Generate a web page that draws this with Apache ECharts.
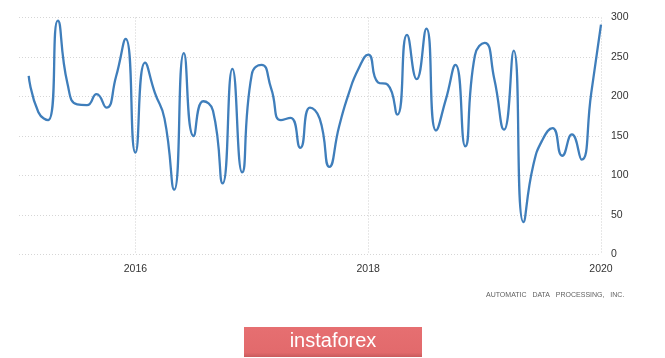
<!DOCTYPE html>
<html>
<head>
<meta charset="utf-8">
<script src="https://cdn.jsdelivr.net/npm/echarts@6/dist/echarts.min.js"></script>
<style>
  html, body { margin: 0; padding: 0; background: #ffffff; }
  #chart { width: 665px; height: 358px; }
</style>
</head>
<body>
<div id="chart"></div>
<script>
// Months (YYYY-MM) of the ADP employment change series
const months = [
  '2015-02','2015-03','2015-04','2015-05','2015-06','2015-07','2015-08','2015-09','2015-10','2015-11','2015-12',
  '2016-01','2016-02','2016-03','2016-04','2016-05','2016-06','2016-07','2016-08','2016-09','2016-10','2016-11','2016-12',
  '2017-01','2017-02','2017-03','2017-04','2017-05','2017-06','2017-07','2017-08','2017-09','2017-10','2017-11','2017-12',
  '2018-01','2018-02','2018-03','2018-04','2018-05','2018-06','2018-07','2018-08','2018-09','2018-10','2018-11','2018-12',
  '2019-01','2019-02','2019-03','2019-04','2019-05','2019-06','2019-07','2019-08','2019-09','2019-10','2019-11','2019-12',
  '2020-01'
];
// Values in thousands
const values = [
  226, 180, 170, 296, 216, 190, 189, 203, 186, 225, 273,
  129, 243, 205, 172, 82, 255, 150, 194, 182, 90, 235, 104,
  228, 240, 210, 170, 173, 135, 186, 172, 111, 162, 204, 235,
  253, 218, 215, 177, 278, 222, 286, 157, 196, 240, 137, 252,
  268, 222, 158, 258, 41, 112, 146, 160, 125, 152, 120, 205,
  291
];
const yTicks = [0, 50, 100, 150, 200, 250, 300];
const xLabelYears = [2016, 2018, 2020];
const sourceText = 'AUTOMATIC   DATA   PROCESSING,   INC.';
const logoText = 'instaforex';

const seriesData = months.map((m, i) => {
  const [y, mo] = m.split('-').map(Number);
  return [y + (mo - 1) / 12, values[i]];
});

const chart = echarts.init(document.getElementById('chart'), null, { renderer: 'canvas' });
chart.setOption({
  animation: false,
  backgroundColor: '#ffffff',
  grid: { left: 19, right: 64, top: 17.5, bottom: 103.5, containLabel: false },
  xAxis: {
    type: 'value',
    min: 2015,
    max: 2020,
    interval: 1,
    axisLine: { show: false },
    axisTick: { show: false },
    axisLabel: {
      margin: 9,
      color: '#333',
      fontSize: 10.5,
      fontFamily: 'Liberation Sans, Arial, sans-serif',
      showMinLabel: true,
      showMaxLabel: true,
      formatter: v => xLabelYears.includes(Math.round(v)) ? String(Math.round(v)) : ''
    },
    splitLine: {
      show: true,
      lineStyle: { color: ['rgba(0,0,0,0)', '#cfcfcf'], type: [1, 2], width: 1 }
    }
  },
  yAxis: {
    type: 'value',
    position: 'right',
    min: yTicks[0],
    max: yTicks[yTicks.length - 1],
    interval: 50,
    axisLine: { show: false },
    axisTick: { show: false },
    axisLabel: {
      margin: 10,
      color: '#333',
      fontSize: 10.5,
      fontFamily: 'Liberation Sans, Arial, sans-serif'
    },
    splitLine: {
      show: true,
      lineStyle: { color: '#d6d6d6', type: [1, 2], width: 1 }
    }
  },
  series: [{
    type: 'line',
    data: seriesData,
    smooth: 0.55,
    symbol: 'none',
    lineStyle: { color: '#3f7ebb', width: 2.3 },
    itemStyle: { color: '#3f7ebb' }
  }],
  graphic: [
    {
      type: 'text',
      left: 486,
      top: 292,
      style: {
        text: sourceText,
        fill: '#5f5f5f',
        font: '7px "Liberation Sans", Arial, sans-serif'
      }
    },
    {
      type: 'rect',
      shape: { x: 244, y: 327, width: 178, height: 30 },
      style: {
        fill: new echarts.graphic.LinearGradient(0, 0, 0, 1, [
          { offset: 0, color: '#e66f71' },
          { offset: 0.85, color: '#e26a6c' },
          { offset: 1, color: '#c95b5d' }
        ])
      }
    },
    {
      type: 'text',
      x: 333,
      y: 341.5,
      style: {
        text: logoText,
        fill: '#ffffff',
        font: '20px "Liberation Sans", Arial, sans-serif',
        align: 'center',
        verticalAlign: 'middle'
      }
    }
  ]
});
</script>
</body>
</html>
